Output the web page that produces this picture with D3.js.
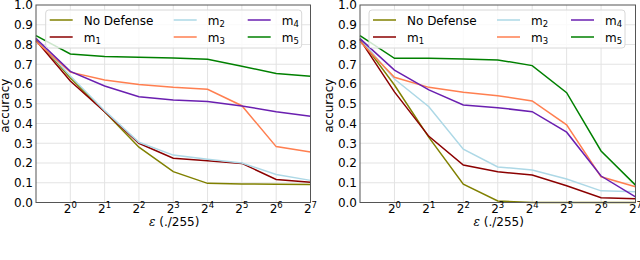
<!DOCTYPE html>
<html>
<head>
<meta charset="utf-8">
<script src="https://cdn.jsdelivr.net/npm/d3@7"></script>
<style>
  body { margin: 0; background: #fff; }
  svg { display: block; font-family: "DejaVu Sans", sans-serif; }
</style>
</head>
<body>
<svg id="chart" width="640" height="260"></svg>
<script>
// epsilon as log2 (first point sits one step left of 2^0)
var epsLog2 = [-1, 0, 1, 2, 3, 4, 5, 6, 7];
var tickExp = [0, 1, 2, 3, 4, 5, 6, 7];
var yTicks = [0, 0.1, 0.2, 0.3, 0.4, 0.5, 0.6, 0.7, 0.8, 0.9, 1.0];

var seriesNames = ["No Defense", "m1", "m2", "m3", "m4", "m5"];
var seriesColors = ["#808000", "#8b0000", "#add8e6", "#ff7f50", "#6a1fb0", "#008000"];

// left panel
var leftNoDef = [0.83, 0.63, 0.46, 0.28, 0.156, 0.097, 0.094, 0.092, 0.091];
var leftM1 = [0.82, 0.615, 0.46, 0.30, 0.224, 0.212, 0.198, 0.117, 0.103];
var leftM2 = [0.83, 0.64, 0.465, 0.305, 0.24, 0.219, 0.20, 0.142, 0.112];
var leftM3 = [0.815, 0.66, 0.62, 0.598, 0.583, 0.573, 0.49, 0.283, 0.256];
var leftM4 = [0.83, 0.664, 0.59, 0.536, 0.519, 0.511, 0.489, 0.459, 0.437];
var leftM5 = [0.845, 0.752, 0.739, 0.735, 0.732, 0.725, 0.69, 0.653, 0.639];

// right panel
var rightNoDef = [0.83, 0.595, 0.33, 0.093, 0.008, 0.0, 0.0, 0.0, 0.0];
var rightM1 = [0.825, 0.56, 0.335, 0.19, 0.156, 0.139, 0.085, 0.024, 0.019];
var rightM2 = [0.83, 0.625, 0.485, 0.27, 0.18, 0.165, 0.119, 0.059, 0.054];
var rightM3 = [0.815, 0.634, 0.583, 0.558, 0.541, 0.514, 0.393, 0.13, 0.08];
var rightM4 = [0.83, 0.67, 0.57, 0.494, 0.48, 0.46, 0.356, 0.134, 0.029];
var rightM5 = [0.845, 0.73, 0.73, 0.727, 0.722, 0.693, 0.556, 0.261, 0.088];

var caption = "Figure 4: Evaluation of our model variants (see Table 5) for";

var svg = d3.select("#chart");

var panels = [
    {x0: 36, x1: 310.5, lx: 45.7, data: [leftNoDef, leftM1, leftM2, leftM3, leftM4, leftM5]},
    {x0: 360, x1: 635.5, lx: 369, data: [rightNoDef, rightM1, rightM2, rightM3, rightM4, rightM5]}
];

var y = d3.scaleLinear().domain([0, 1]).range([202.5, 5]);

panels.forEach(function(p) {
    var x = d3.scaleLinear().domain([-1, 7]).range([p.x0, p.x1]);
    var g = svg.append("g");

    // grid
    g.append("g").selectAll("line").data(yTicks.slice(1, -1)).join("line")
        .attr("x1", p.x0).attr("x2", p.x1)
        .attr("y1", d => y(d)).attr("y2", d => y(d))
        .attr("stroke", "#e3e3e3").attr("stroke-width", 1);
    g.append("g").selectAll("line").data(tickExp.slice(0, -1)).join("line")
        .attr("x1", d => x(d)).attr("x2", d => x(d))
        .attr("y1", y(0)).attr("y2", y(1))
        .attr("stroke", "#e3e3e3").attr("stroke-width", 1);

    // lines
    var line = d3.line().x((d, i) => x(epsLog2[i])).y(d => y(d));
    g.append("g").selectAll("path").data(p.data).join("path")
        .attr("d", d => line(d))
        .attr("fill", "none")
        .attr("stroke", (d, i) => seriesColors[i])
        .attr("stroke-width", 1.5);

    // spines
    g.append("rect")
        .attr("x", p.x0).attr("y", y(1))
        .attr("width", p.x1 - p.x0).attr("height", y(0) - y(1))
        .attr("fill", "none").attr("stroke", "#555").attr("stroke-width", 1);

    // y axis
    var yAxis = d3.axisLeft(y).tickValues(yTicks).tickFormat(d3.format(".1f"))
        .tickSize(0).tickPadding(3);
    var ya = g.append("g").attr("transform", `translate(${p.x0},0)`).call(yAxis);
    ya.select(".domain").remove();
    ya.selectAll("text").attr("font-size", 12).attr("fill", "#000")
        .attr("font-family", "DejaVu Sans");

    // x axis with superscript labels
    var xa = g.append("g").selectAll("text").data(tickExp).join("text")
        .attr("x", d => x(d))
        .attr("y", 213)
        .attr("text-anchor", "middle")
        .attr("font-size", 12)
        .attr("fill", "#000");
    xa.append("tspan").text("2");
    xa.append("tspan").attr("font-size", 8.5).attr("dy", -5).text(d => d);

    // axis titles
    g.append("text")
        .attr("x", (p.x0 + p.x1) / 2 + 1)
        .attr("y", 226)
        .attr("text-anchor", "middle")
        .attr("font-size", 12)
        .attr("fill", "#000")
        .html("<tspan font-family='DejaVu Serif' font-style='italic'>ε</tspan>  (./255)");

    g.append("text")
        .attr("transform", `translate(${p.x0 - 27},${(y(0) + y(1)) / 2 + 2}) rotate(-90)`)
        .attr("text-anchor", "middle")
        .attr("font-size", 12)
        .attr("fill", "#000")
        .text("accuracy");

    // legend
    var lg = g.append("g").attr("transform", `translate(${p.lx},10)`);
    lg.append("rect")
        .attr("width", 256).attr("height", 38)
        .attr("rx", 3)
        .attr("fill", "white").attr("fill-opacity", 0.8)
        .attr("stroke", "#d8d8d8");
    var colX = [4, 128, 202];
    var item = lg.selectAll("g.item").data(seriesNames).join("g")
        .attr("transform", (d, i) => `translate(${colX[Math.floor(i / 2)]},${i % 2 ? 27 : 10})`);
    item.append("line")
        .attr("x1", 0).attr("x2", 23)
        .attr("stroke", (d, i) => seriesColors[i])
        .attr("stroke-width", 1.5);
    var t = item.append("text")
        .attr("x", 34).attr("y", 4.5)
        .attr("font-size", 12).attr("fill", "#000");
    t.each(function(d) {
        var s = d3.select(this);
        if (d[0] === "m" && d.length === 2) {
            s.append("tspan").text("m");
            s.append("tspan").attr("font-size", 8.5).attr("dy", 2.5).text(d[1]);
        } else {
            s.text(d);
        }
    });
});

// caption (cut off at the bottom of the frame)
svg.append("text")
    .attr("x", 0)
    .attr("y", 275)
    .attr("font-family", "Liberation Serif")
    .attr("font-size", 22)
    .attr("fill", "#222")
    .text(caption);
</script>
</body>
</html>
